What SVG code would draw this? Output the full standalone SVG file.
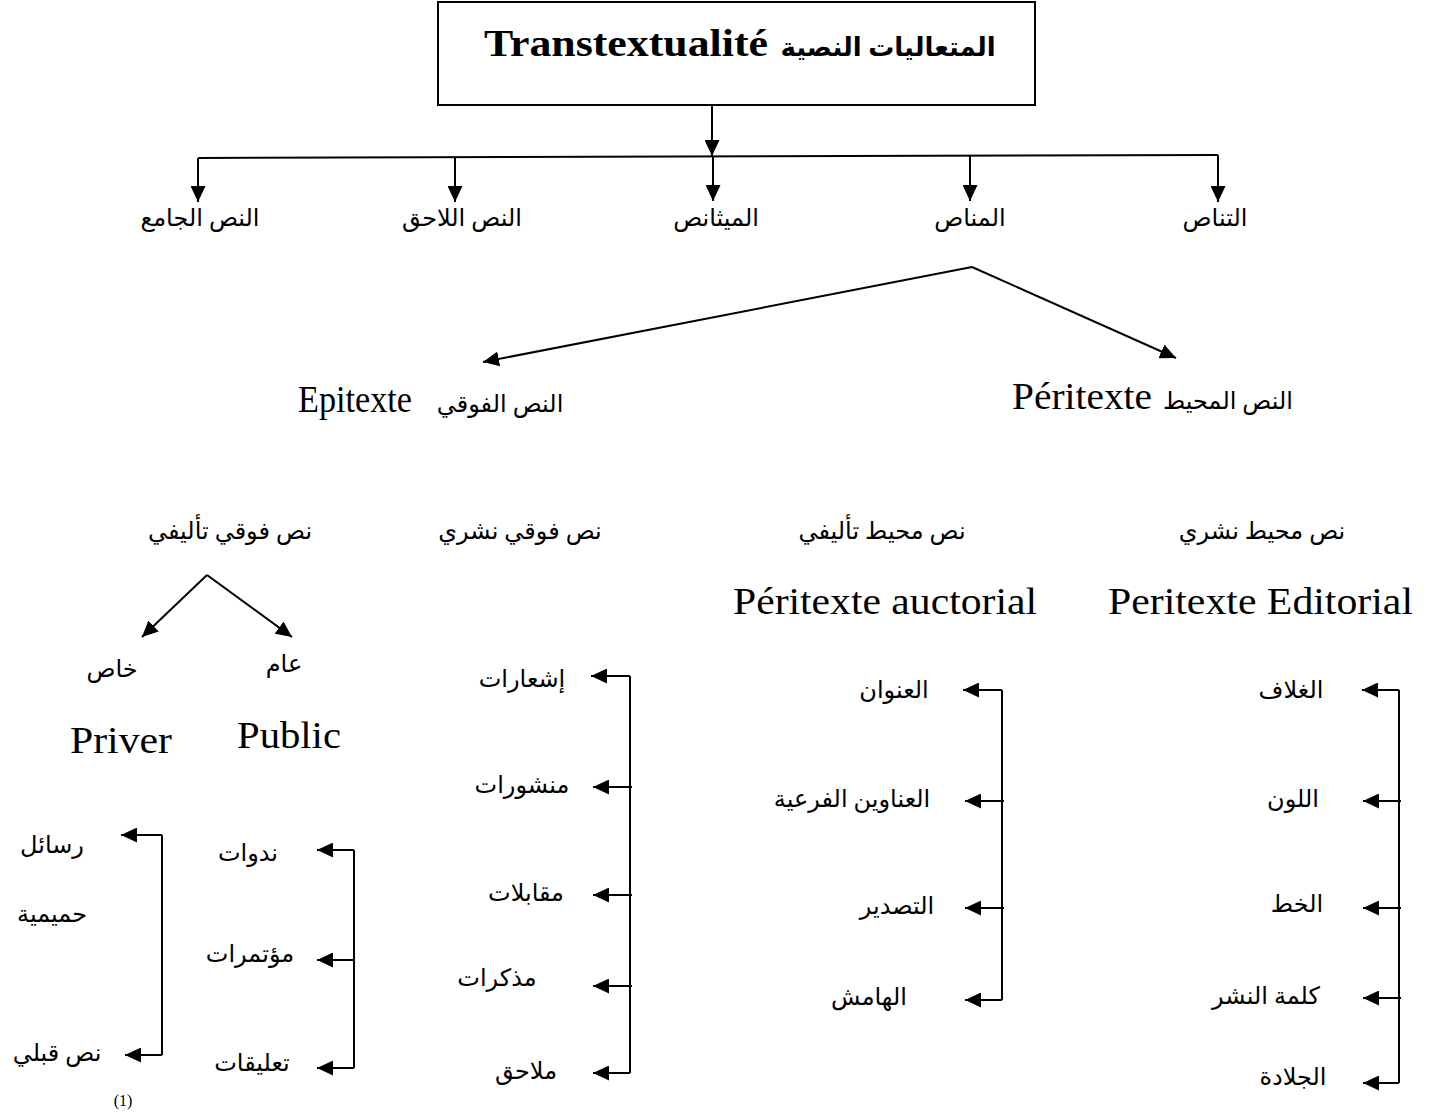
<svg xmlns="http://www.w3.org/2000/svg" width="1431" height="1115" viewBox="0 0 1431 1115">
<style>
.bg{fill:#fff}
.box{fill:#fff;stroke:#000;stroke-width:2}
.ln{fill:none;stroke:#000;stroke-width:2}
.ar{font-family:"Liberation Serif","DejaVu Sans",serif;font-size:24px;fill:#000;text-anchor:middle}
.lat{font-family:"Liberation Serif",serif;font-size:38px;fill:#000}
.ttl{font-family:"Liberation Serif",serif;font-size:37px;font-weight:bold;fill:#000}
.ttlar{font-family:"Liberation Serif","DejaVu Sans",serif;font-size:26px;font-weight:bold;fill:#000;text-anchor:middle}
.note{font-family:"Liberation Serif",serif;font-size:16px;fill:#000;text-anchor:middle}
</style>
<defs>
<marker id="ah" markerUnits="userSpaceOnUse" markerWidth="17" markerHeight="15" refX="16" refY="7.5" orient="auto">
<path d="M0,0 L16,7.5 L0,15 z" fill="#000"/>
</marker>
</defs>
<rect class="bg" x="0" y="0" width="1431" height="1115"/>

<g id="connectors">
<line class="ln" x1="712" y1="105" x2="712" y2="156" marker-end="url(#ah)"/>
<line class="ln" x1="198" y1="158" x2="1218" y2="155"/>
<line class="ln" x1="198" y1="158" x2="198" y2="202" marker-end="url(#ah)"/>
<line class="ln" x1="455" y1="157" x2="455" y2="202" marker-end="url(#ah)"/>
<line class="ln" x1="713" y1="156" x2="713" y2="201" marker-end="url(#ah)"/>
<line class="ln" x1="970" y1="156" x2="970" y2="201" marker-end="url(#ah)"/>
<line class="ln" x1="1218" y1="155" x2="1218" y2="202" marker-end="url(#ah)"/>
<line class="ln" x1="972" y1="267" x2="483" y2="362" marker-end="url(#ah)"/>
<line class="ln" x1="972" y1="267" x2="1176" y2="358" marker-end="url(#ah)"/>
<line class="ln" x1="207" y1="575" x2="142" y2="637" marker-end="url(#ah)"/>
<line class="ln" x1="207" y1="575" x2="292" y2="637" marker-end="url(#ah)"/>
<!-- private bracket -->
<path class="ln" d="M162,835 V1055"/>
<line class="ln" x1="162" y1="835" x2="121" y2="835" marker-end="url(#ah)"/>
<line class="ln" x1="162" y1="1055" x2="125" y2="1055" marker-end="url(#ah)"/>
<!-- public bracket -->
<path class="ln" d="M354,850 V1068"/>
<line class="ln" x1="354" y1="850" x2="317" y2="850" marker-end="url(#ah)"/>
<line class="ln" x1="354" y1="960" x2="317" y2="960" marker-end="url(#ah)"/>
<line class="ln" x1="354" y1="1068" x2="317" y2="1068" marker-end="url(#ah)"/>
<!-- editorial epitext bracket -->
<path class="ln" d="M630,676 V1073"/>
<line class="ln" x1="630" y1="676" x2="591" y2="676" marker-end="url(#ah)"/>
<line class="ln" x1="632" y1="787" x2="593" y2="787" marker-end="url(#ah)"/>
<line class="ln" x1="632" y1="895" x2="593" y2="895" marker-end="url(#ah)"/>
<line class="ln" x1="632" y1="986" x2="593" y2="986" marker-end="url(#ah)"/>
<line class="ln" x1="630" y1="1073" x2="593" y2="1073" marker-end="url(#ah)"/>
<!-- auctorial peritext bracket -->
<path class="ln" d="M1002,690 V1000"/>
<line class="ln" x1="1002" y1="690" x2="963" y2="690" marker-end="url(#ah)"/>
<line class="ln" x1="1004" y1="801" x2="965" y2="801" marker-end="url(#ah)"/>
<line class="ln" x1="1004" y1="908" x2="965" y2="908" marker-end="url(#ah)"/>
<line class="ln" x1="1002" y1="1000" x2="965" y2="1000" marker-end="url(#ah)"/>
<!-- editorial peritext bracket -->
<path class="ln" d="M1399,690 V1083"/>
<line class="ln" x1="1399" y1="690" x2="1362" y2="690" marker-end="url(#ah)"/>
<line class="ln" x1="1401" y1="801" x2="1363" y2="801" marker-end="url(#ah)"/>
<line class="ln" x1="1401" y1="908" x2="1363" y2="908" marker-end="url(#ah)"/>
<line class="ln" x1="1401" y1="998" x2="1363" y2="998" marker-end="url(#ah)"/>
<line class="ln" x1="1399" y1="1083" x2="1363" y2="1083" marker-end="url(#ah)"/>
</g>

<g id="n-root">
<rect class="box" x="438" y="2" width="597" height="103"/>
<text class="ttl" x="484" y="56" textLength="284" lengthAdjust="spacingAndGlyphs">Transtextualité</text>
<text class="ttlar" x="888" y="56">المتعاليات النصية</text>
</g>

<g id="n-intertext"><text class="ar" x="1215" y="226">التناص</text></g>
<g id="n-paratext"><text class="ar" x="970" y="226">المناص</text></g>
<g id="n-metatext"><text class="ar" x="716" y="226">الميثانص</text></g>
<g id="n-hypertext"><text class="ar" x="462" y="226">النص اللاحق</text></g>
<g id="n-architext"><text class="ar" x="200" y="226">النص الجامع</text></g>

<g id="n-epitexte">
<text class="lat" x="298" y="412" textLength="114" lengthAdjust="spacingAndGlyphs">Epitexte</text>
<text class="ar" x="500" y="412">النص الفوقي</text>
</g>
<g id="n-peritexte">
<text class="lat" x="1012" y="409" textLength="140" lengthAdjust="spacingAndGlyphs">Péritexte</text>
<text class="ar" x="1228" y="409">النص المحيط</text>
</g>

<g id="n-epi-auct"><text class="ar" x="230" y="539">نص فوقي تأليفي</text></g>
<g id="n-epi-edit"><text class="ar" x="520" y="539">نص فوقي نشري</text></g>
<g id="n-peri-auct">
<text class="ar" x="882" y="539">نص محيط تأليفي</text>
<text class="lat" x="733" y="614" textLength="304" lengthAdjust="spacingAndGlyphs">Péritexte auctorial</text>
</g>
<g id="n-peri-edit">
<text class="ar" x="1262" y="539">نص محيط نشري</text>
<text class="lat" x="1108" y="614" textLength="305" lengthAdjust="spacingAndGlyphs">Peritexte Editorial</text>
</g>

<g id="n-private">
<text class="ar" x="112" y="677">خاص</text>
<text class="lat" x="70" y="753" textLength="102" lengthAdjust="spacingAndGlyphs">Priver</text>
</g>
<g id="n-public">
<text class="ar" x="284" y="672">عام</text>
<text class="lat" x="237" y="748" textLength="104" lengthAdjust="spacingAndGlyphs">Public</text>
</g>

<g id="n-private-items">
<text class="ar" x="52" y="853">رسائل</text>
<text class="ar" x="52" y="922">حميمية</text>
<text class="ar" x="57" y="1061">نص قبلي</text>
<text class="note" x="123" y="1106">(1)</text>
</g>
<g id="n-public-items">
<text class="ar" x="248" y="861">ندوات</text>
<text class="ar" x="250" y="962">مؤتمرات</text>
<text class="ar" x="252" y="1071">تعليقات</text>
</g>
<g id="n-epi-edit-items">
<text class="ar" x="522" y="687">إشعارات</text>
<text class="ar" x="522" y="793">منشورات</text>
<text class="ar" x="526" y="901">مقابلات</text>
<text class="ar" x="497" y="986">مذكرات</text>
<text class="ar" x="526" y="1079">ملاحق</text>
</g>
<g id="n-peri-auct-items">
<text class="ar" x="894" y="698">العنوان</text>
<text class="ar" x="852" y="807">العناوين الفرعية</text>
<text class="ar" x="897" y="914">التصدير</text>
<text class="ar" x="869" y="1005">الهامش</text>
</g>
<g id="n-peri-edit-items">
<text class="ar" x="1291" y="698">الغلاف</text>
<text class="ar" x="1293" y="807">اللون</text>
<text class="ar" x="1297" y="912">الخط</text>
<text class="ar" x="1266" y="1004">كلمة النشر</text>
<text class="ar" x="1293" y="1085">الجلادة</text>
</g>
</svg>
